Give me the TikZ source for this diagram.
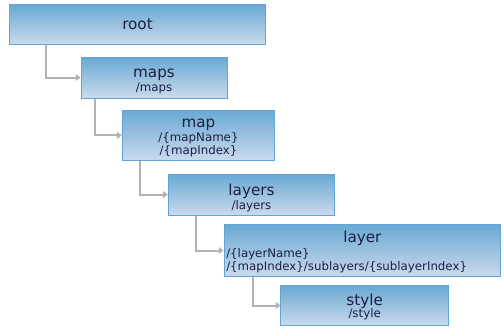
\documentclass[tikz,border=0pt]{standalone}
\usepackage{fontspec}
\setmainfont{DejaVu Sans}
\usetikzlibrary{arrows.meta}
\definecolor{boxtop}{HTML}{69A9D3}
\definecolor{boxbot}{HTML}{CBDAED}
\definecolor{boxline}{HTML}{62A4D4}
\definecolor{conncol}{HTML}{B2B2B2}
\definecolor{txtcol}{HTML}{1E1E44}
\tikzset{
  box/.style={rectangle, draw=boxline, line width=0.75pt, top color=boxtop, bottom color=boxbot, inner sep=0pt},
  ttl/.style={anchor=base, inner sep=0pt, text=txtcol, font=\fontsize{11.4}{13}\selectfont},
  sub/.style={anchor=base, inner sep=0pt, text=txtcol, font=\fontsize{8.85}{10}\selectfont},
  subl/.style={sub, anchor=base west},
  conn/.style={draw=conncol, line width=1.5pt, -{Triangle[length=3.5pt,width=5pt]}}
}
\begin{document}
\begin{tikzpicture}[x=0.75pt,y=-0.75pt]
\useasboundingbox (0,0) rectangle (504,336);
% boxes
\node[box, minimum width=192.3pt, minimum height=30.2pt] (root) at (137.5,24.85) {};
\node[box, minimum width=109.5pt, minimum height=30.75pt] (maps) at (154,77.5) {};
\node[box, minimum width=114.3pt, minimum height=38pt] (map) at (198.5,135.35) {};
\node[box, minimum width=124.8pt, minimum height=30.75pt] (layers) at (251.5,194.5) {};
\node[box, minimum width=207.5pt, minimum height=39.3pt] (layer) at (362.35,250.5) {};
\node[box, minimum width=125.5pt, minimum height=30.3pt] (style) at (364.65,305.5) {};
% texts
\node[ttl] (rootT) at (137.5,29.3) {root};
\node[ttl] (mapsT) at (154,77.3) {maps};
\node[sub] (mapsS) at (154,91.7) {/maps};
\node[ttl] (mapT) at (198.5,127.3) {map};
\node[sub] (mapS1) at (198.5,141.3) {/\{mapName\}};
\node[sub] (mapS2) at (198.5,154.7) {/\{mapIndex\}};
\node[ttl] (layersT) at (251.5,195) {layers};
\node[sub] (layersS) at (251.5,209) {/layers};
\node[ttl] (layerT) at (362.35,242.3) {layer};
\node[subl] (layerS1) at (226,257.3) {/\{layerName\}};
\node[subl] (layerS2) at (226,270) {/\{mapIndex\}/sublayers/\{sublayerIndex\}};
\node[ttl] (styleT) at (364.65,305) {style};
\node[sub] (styleS) at (364.65,317.7) {/style};
% connectors
\draw[conn] ([xshift=28pt]root.south west) |- (maps.west);
\draw[conn] ([xshift=11pt]maps.south west) |- (map.west);
\draw[conn] ([xshift=13.8pt]map.south west) |- (layers.west);
\draw[conn] ([xshift=21.5pt]layers.south west) |- (layer.west);
\draw[conn] ([xshift=22pt]layer.south west) |- (style.west);
\end{tikzpicture}
\end{document}
